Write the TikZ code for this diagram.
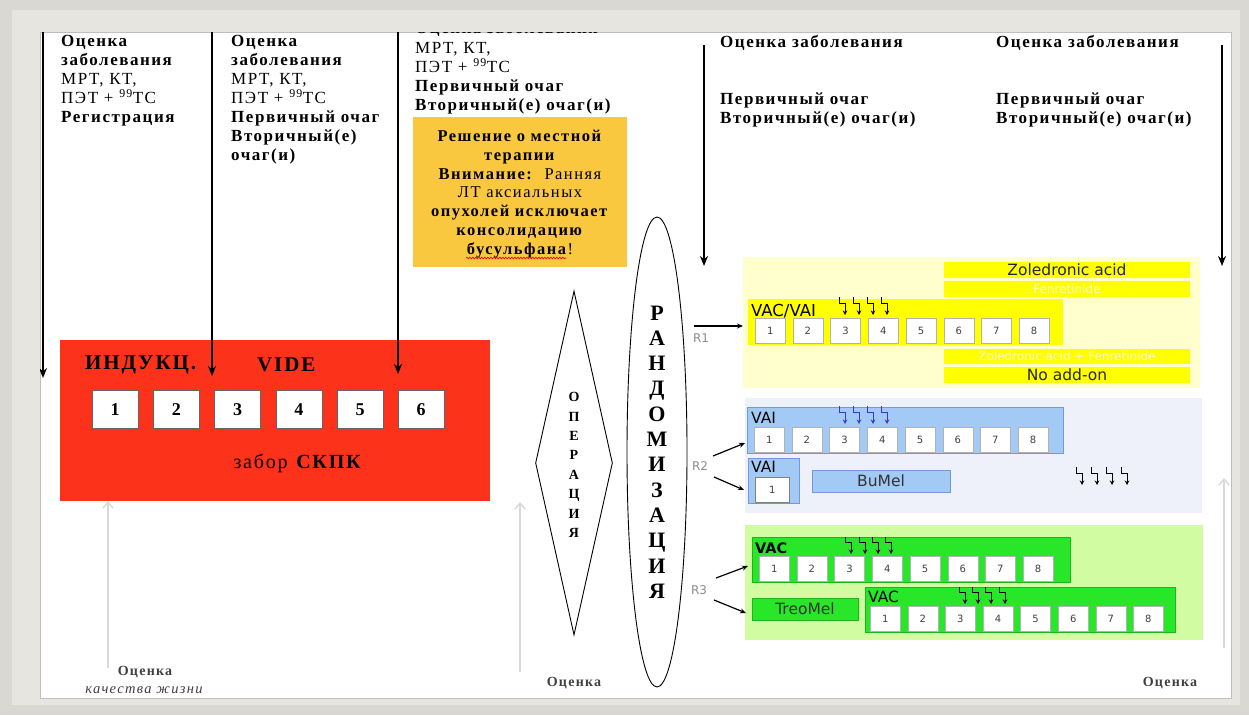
\documentclass[tikz,border=0pt]{standalone}
\usepackage{fontspec}
\setmainfont{Liberation Serif}[LetterSpace=9]
\setsansfont{Liberation Sans}
\newfontfamily\djv{DejaVu Sans}
\usetikzlibrary{shapes.geometric,arrows.meta,decorations.pathmorphing}
\definecolor{bggrey}{RGB}{217,216,210}
\definecolor{cardgrey}{RGB}{230,229,224}
\definecolor{redbox}{RGB}{252,50,26}
\definecolor{notey}{RGB}{250,200,62}
\definecolor{paleY}{RGB}{255,255,206}
\definecolor{barY}{RGB}{255,255,0}
\definecolor{paleB}{RGB}{239,241,250}
\definecolor{barB}{RGB}{162,202,245}
\definecolor{barBline}{RGB}{112,152,222}
\definecolor{paleG}{RGB}{210,252,162}
\definecolor{barG}{RGB}{40,230,40}
\definecolor{barGline}{RGB}{30,180,30}
\definecolor{ghost}{RGB}{252,252,205}
\definecolor{smallblue}{RGB}{50,60,200}
\begin{document}
\begin{tikzpicture}[x=1pt,y=-1pt,
  box/.style={inner sep=0pt,outer sep=0pt,anchor=north west},
  blkarrow/.style={line width=1.8pt,-{Stealth[length=10pt,width=8pt]}},
  greyarrow/.style={draw=black!15,line width=1.4pt,-{Straight Barb[length=6pt,width=10pt]}},
  rarrow/.style={line width=1.2pt,-{Stealth[length=6pt,width=5pt]}},
  minarrow/.style={line width=0.8pt,-{Stealth[length=4.5pt,width=4.5pt]}},
  coltext/.style={inner sep=0pt,anchor=north west,align=left,font=\bfseries\fontsize{17}{19}\selectfont},
  numbox/.style={draw=black!30,fill=white,inner sep=0pt,minimum width=30pt,minimum height=25pt,anchor=north west,font=\djv\fontsize{10}{12}\selectfont,text=black!75},
  bignum/.style={draw=black!60,fill=white,inner sep=0pt,minimum width=46pt,minimum height=38pt,anchor=north west,font=\bfseries\fontsize{18}{20}\selectfont},
  barlabel/.style={inner sep=0pt,font=\djv\fontsize{15.5}{17}\selectfont},
  rlabel/.style={inner sep=0pt,font=\djv\fontsize{12}{14}\selectfont,text=black!45},
  evaltext/.style={inner sep=0pt,font=\bfseries\fontsize{14}{17}\selectfont,text=black!75},
]
\useasboundingbox (0,0) rectangle (1249,715);
% background, card and white panel
\fill[bggrey] (0,0) rectangle (1249,715);
\fill[cardgrey] (12,10) rectangle (1240,705);
\node[box,fill=white,draw=black!25,line width=0.8pt,minimum width=1191pt,minimum height=666pt] (panel) at (40,32) {};

\begin{scope}
\clip (40,32) rectangle (1231,698);
% column texts
\node[coltext] (col1) at (61,35) {Оценка\\заболевания\\{\mdseries МРТ, КТ,}\\{\mdseries ПЭТ + \textsuperscript{99}TC}\\Регистрация};
\node[coltext] (col2) at (231,35) {Оценка\\заболевания\\{\mdseries МРТ, КТ,}\\{\mdseries ПЭТ + \textsuperscript{99}TC}\\Первичный очаг\\Вторичный(е)\\очаг(и)};
\node[coltext] (col3) at (415,21) {Оценка заболевания\\[1pt]{\mdseries МРТ, КТ,}\\{\mdseries ПЭТ + \textsuperscript{99}TC}\\Первичный очаг\\Вторичный(е) очаг(и)};
\node[coltext] (col4) at (720,35) {Оценка заболевания\\[38pt]Первичный очаг\\Вторичный(е) очаг(и)};
\node[coltext] (col5) at (996,35) {Оценка заболевания\\[38pt]Первичный очаг\\Вторичный(е) очаг(и)};

% note box
\node[box,fill=notey,minimum width=214pt,minimum height=150pt] (note) at (413,117) {};
\node[anchor=north,align=center,inner sep=0pt,font=\fontsize{16.5}{18.8}\selectfont] (notetext) at (520,130)
  {\textbf{Решение о местной}\\\textbf{терапии}\\\textbf{Внимание:}\ \ Ранняя\\ЛТ аксиальных\\\textbf{опухолей исключает}\\\textbf{консолидацию}\\\textbf{бусульфана}!};
\coordinate (sqA) at (466,258);
\coordinate (sqB) at (566,258);
\draw[red,line width=0.7pt,decorate,decoration={snake,amplitude=0.8pt,segment length=3pt}] (sqA) -- (sqB);

% red induction box
\node[box,fill=redbox,minimum width=430pt,minimum height=161pt] (redbox) at (60,340) {};
\node[anchor=west,inner sep=0pt,font=\bfseries\fontsize{21}{24}\selectfont] (induk) at (85,365) {ИНДУКЦ.};
\node[anchor=west,inner sep=0pt,font=\bfseries\fontsize{21}{24}\selectfont] (vide) at (257,365) {VIDE};
\foreach \i in {1,...,6} {
  \node[bignum] (rb\i) at ({92+61.2*(\i-1)},390) {\i};
}
\node[inner sep=0pt,font=\fontsize{20}{24}\selectfont] (zabor) at (298,463) {забор \textbf{СКПК}};

% black arrows from the top
\coordinate (t1) at (43,32);
\coordinate (t2) at (212,32);
\coordinate (t3) at (398,32);
\coordinate (t4) at (704,45);
\coordinate (t5) at (1222,45);
\coordinate (e1) at (43,378);
\coordinate (e2) at (212,376);
\coordinate (e3) at (398,374);
\coordinate (e4) at (704,266);
\coordinate (e5) at (1222,266);
\draw[blkarrow] (t1) -- (e1);
\draw[blkarrow] (t2) -- (e2);
\draw[blkarrow] (t3) -- (e3);
\draw[blkarrow] (t4) -- (e4);
\draw[blkarrow] (t5) -- (e5);

% grey upward arrows
\coordinate (g1) at (108,668);
\coordinate (g2) at (520,672);
\coordinate (g3) at (1224,648);
\draw[greyarrow] (g1) -- (g1 |- redbox.south);
\draw[greyarrow] (g2) -- (520,502);
\draw[greyarrow] (g3) -- (1224,478);

% evaluation labels
\node[evaltext] (qol1) at (145,672) {Оценка};
\node[inner sep=0pt,font=\itshape\fontsize{14.5}{18}\selectfont,text=black!75] (qol2) at (144,690) {качества жизни};
\node[evaltext] (ev2) at (574,683) {Оценка};
\node[evaltext] (ev3) at (1170,683) {Оценка};

% operation diamond
\node[draw,diamond,line width=0.9pt,minimum width=77pt,minimum height=344pt,inner sep=0pt] (oper) at (574,463) {};
\node[align=center,inner sep=0pt,font=\bfseries\fontsize{14}{19.4}\selectfont] (opertext) at (574,465) {О\\П\\Е\\Р\\А\\Ц\\И\\Я};

% randomisation ellipse
\node[draw,ellipse,line width=0.9pt,minimum width=60pt,minimum height=470pt,inner sep=0pt,align=center,font=\bfseries\fontsize{22}{25.3}\selectfont] (rand) at (657,452) {Р\\А\\Н\\Д\\О\\М\\И\\З\\А\\Ц\\И\\Я};

% ===== R1 panel =====
\node[box,fill=paleY,minimum width=457pt,minimum height=131pt] (r1panel) at (743,257) {};
\node[box,fill=barY,minimum width=246pt,minimum height=16pt] (za) at (944,262) {};
\node[barlabel,text=black!85] (zatext) at (za.center) {Zoledronic acid};
\node[box,fill=barY,minimum width=246pt,minimum height=16pt] (fen) at (944,281) {};
\node[barlabel,text=ghost,font=\djv\fontsize{12}{14}\selectfont] (fentext) at (fen.center) {Fenretinide};
\node[box,fill=barY,minimum width=315pt,minimum height=46pt] (r1bar) at (748,299) {};
\node[barlabel,anchor=west,font=\djv\fontsize{16.5}{18}\selectfont] (r1lab) at (751,311) {VAC/VAI};
\foreach \i in {1,...,8} {
  \node[numbox] (r1b\i) at ({755+37.7*(\i-1)},318) {\i};
}
\node[box,fill=barY,minimum width=246pt,minimum height=15pt] (zaf) at (944,349) {};
\node[barlabel,text=ghost,font=\djv\fontsize{12}{14}\selectfont] (zaftext) at (zaf.center) {Zoledronic acid + Fenretinide};
\node[box,fill=barY,minimum width=246pt,minimum height=16pt] (noadd) at (944,367) {};
\node[barlabel,text=black!85] (noaddtext) at (noadd.center) {No add-on};
\foreach \h in {845,859,873,887} {
  \draw[minarrow] (\h-6,297) -- (\h-6,303) -- (\h,303) -- (\h,315);
}

% ===== R2 panel =====
\node[box,fill=paleB,minimum width=457pt,minimum height=115pt] (r2panel) at (745,398) {};
\node[box,fill=barB,draw=barBline,minimum width=316pt,minimum height=46pt] (r2bar) at (747,407) {};
\node[barlabel,anchor=west] (r2lab) at (751,418) {VAI};
\foreach \i in {1,...,8} {
  \node[numbox] (r2b\i) at ({754+37.7*(\i-1)},427) {\i};
}
\foreach \h in {845,859,873,887} {
  \draw[minarrow,smallblue] (\h-6,406) -- (\h-6,412) -- (\h,412) -- (\h,424);
}
\node[box,fill=barB,draw=barBline,minimum width=51pt,minimum height=45pt] (r2small) at (748,458) {};
\node[barlabel,anchor=west] (r2slab) at (751,467) {VAI};
\node[numbox,draw=black!50,minimum width=34pt] (r2sb1) at (755,477) {1};
\node[box,fill=barB,draw=barBline,minimum width=138pt,minimum height=22pt] (bumel) at (812,470) {};
\node[barlabel,text=black!80] (bumeltext) at (bumel.center) {BuMel};
\foreach \h in {1082,1097,1112,1127} {
  \draw[minarrow] (\h-6,467) -- (\h-6,473) -- (\h,473) -- (\h,485);
}

% ===== R3 panel =====
\node[box,fill=paleG,minimum width=458pt,minimum height=115pt] (r3panel) at (745,525) {};
\node[box,fill=barG,draw=barGline,minimum width=318pt,minimum height=45pt] (r3bar) at (752,537) {};
\node[barlabel,anchor=west,font=\djv\bfseries\fontsize{14.5}{16}\selectfont] (r3lab) at (755,548) {VAC};
\foreach \i in {1,...,8} {
  \node[numbox] (r3b\i) at ({759+37.7*(\i-1)},556) {\i};
}
\foreach \h in {851,865,878,891} {
  \draw[minarrow] (\h-6,537) -- (\h-6,542) -- (\h,542) -- (\h,554);
}
\node[box,fill=barG,draw=barGline,minimum width=106pt,minimum height=22pt] (treo) at (752,598) {};
\node[barlabel,text=black!80] (treotext) at (treo.center) {TreoMel};
\node[box,fill=barG,draw=barGline,minimum width=310pt,minimum height=45pt] (r3bar2) at (865,587) {};
\node[barlabel,anchor=west] (r3lab2) at (868,597) {VAC};
\foreach \i in {1,...,8} {
  \node[numbox] (r3c\i) at ({870+37.6*(\i-1)},606) {\i};
}
\foreach \h in {965,978,991,1005} {
  \draw[minarrow] (\h-6,587) -- (\h-6,592) -- (\h,592) -- (\h,604);
}

% randomisation arms
\coordinate (r1s) at (694,326);
\draw[rarrow] (r1s) -- (r1s -| r1panel.west);
\node[rlabel] (r1t) at (701,338) {R1};
\coordinate (r2a) at (713,456);
\coordinate (r2b) at (714,477);
\coordinate (r2ae) at (745,443);
\coordinate (r2be) at (744,490);
\draw[rarrow] (r2a) -- (r2ae);
\draw[rarrow] (r2b) -- (r2be);
\node[rlabel] (r2t) at (700,466) {R2};
\coordinate (r3a) at (716,578);
\coordinate (r3b) at (714,600);
\coordinate (r3ae) at (748,566);
\coordinate (r3be) at (746,613);
\draw[rarrow] (r3a) -- (r3ae);
\draw[rarrow] (r3b) -- (r3be);
\node[rlabel] (r3t) at (699,590) {R3};
\end{scope}
\end{tikzpicture}
\end{document}
